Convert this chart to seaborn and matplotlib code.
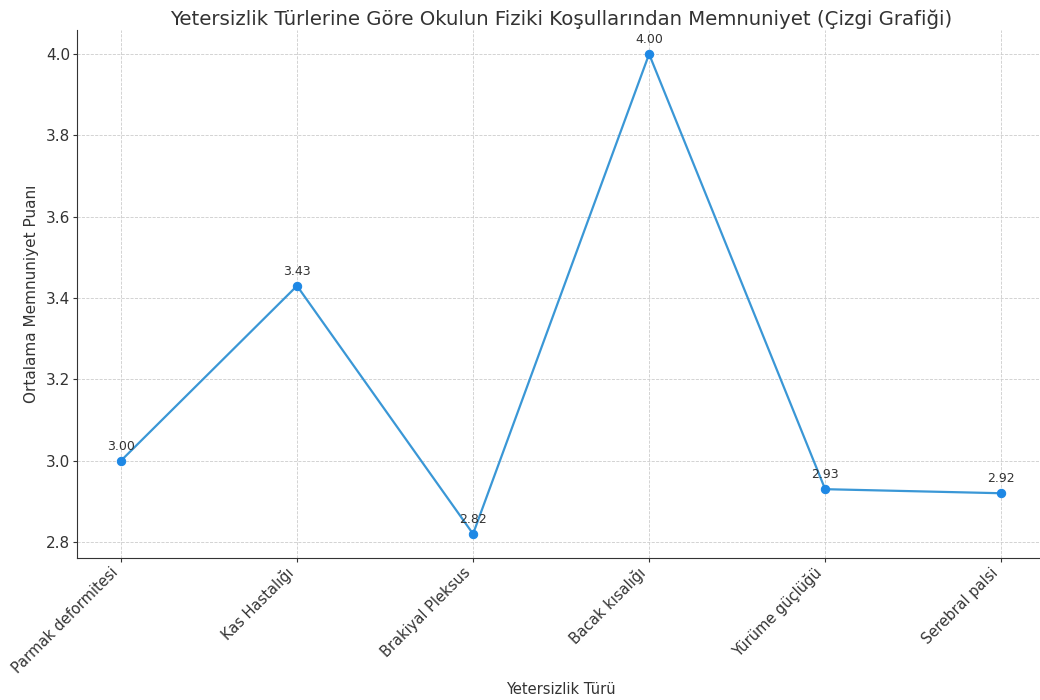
import pandas as pd
import seaborn as sns
import matplotlib.pyplot as plt

categories = ["Parmak deformitesi", "Kas Hastalığı", "Brakiyal Pleksus",
              "Bacak kısalığı", "Yürüme güçlüğü", "Serebral palsi"]
scores = [3.00, 3.43, 2.82, 4.00, 2.93, 2.92]

df = pd.DataFrame({"tur": categories, "puan": scores})

sns.set_style("ticks")
plt.rcParams['font.family'] = ['DejaVu Sans']
plt.rcParams['text.color'] = '#333333'
plt.rcParams['axes.labelcolor'] = '#333333'
plt.rcParams['xtick.color'] = '#333333'
plt.rcParams['ytick.color'] = '#333333'

fig, ax = plt.subplots(figsize=(10.4, 7), dpi=100)
fig.subplots_adjust(left=0.074, right=1.005, top=0.957, bottom=0.203)

sns.lineplot(data=df, x="tur", y="puan", sort=False, marker="o", color="#3a97d6",
             linewidth=1.6, markersize=6, markerfacecolor="#1e88e5",
             markeredgecolor="#1e88e5", ax=ax)

for i, v in enumerate(scores):
    ax.annotate(f"{v:.2f}", (i, v), textcoords="offset points", xytext=(0, 8),
                ha="center", fontsize=9, color="#333333")

ax.grid(True, linestyle="--", linewidth=0.6, color="#cccccc")
sns.despine(ax=ax)
ax.spines['left'].set_color('#333333')
ax.spines['bottom'].set_color('#333333')

ax.set_title("Yetersizlik Türlerine Göre Okulun Fiziki Koşullarından Memnuniyet (Çizgi Grafiği)",
             fontsize=14.2, pad=4)
ax.set_xlabel("Yetersizlik Türü", fontsize=10.5, labelpad=4)
ax.set_ylabel("Ortalama Memnuniyet Puanı", fontsize=11, labelpad=5)
ax.tick_params(length=3, pad=2)
plt.setp(ax.get_xticklabels(), rotation=45, ha="right", fontsize=10.5)
ax.tick_params(axis="y", labelsize=11)

fig.savefig("out.png", dpi=100)
